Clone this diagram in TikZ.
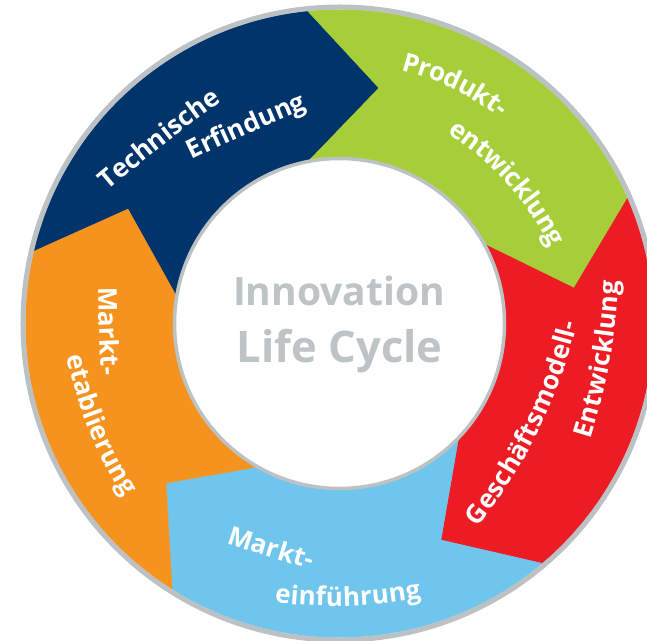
\documentclass[tikz,border=0pt]{standalone}
\usepackage{fontspec}
\setmainfont{Open Sans}
\usetikzlibrary{calc, decorations.text}

\definecolor{techblue}{RGB}{0,52,106}
\definecolor{prodgreen}{RGB}{166,206,57}
\definecolor{modelred}{RGB}{237,28,36}
\definecolor{marketblue}{RGB}{112,197,237}
\definecolor{marketorange}{RGB}{246,147,30}
\definecolor{ringgrey}{RGB}{188,193,196}
\definecolor{titlegrey}{RGB}{190,195,198}

\newcommand{\lblfont}{\fontsize{26}{26}\selectfont\bfseries}

\tikzset{
  lbl/.style={decorate, decoration={text along path, text={|\lblfont|#1}, text align=center, text color=white, raise=-8pt}},
  seg/.style={fill=#1, draw=#1, line width=0.4pt},
}

% label on a clockwise arc through a point, with its tangent angle and bend radius
\newcommand{\cwlabel}[4]{%
  \pgfmathsetmacro{\da}{8594/#3}
  \path[lbl={#4}] ($(#1)+(#2-90:#3)+(#2+90+\da:#3)$)
    arc[start angle=#2+90+\da, end angle=#2+90-\da, radius=#3];
}
% the same on a counter-clockwise arc
\newcommand{\ccwlabel}[4]{%
  \pgfmathsetmacro{\da}{8594/#3}
  \path[lbl={#4}] ($(#1)+(#2+90:#3)+(#2-90-\da:#3)$)
    arc[start angle=#2-90-\da, end angle=#2-90+\da, radius=#3];
}

\begin{document}
\begin{tikzpicture}[x=1pt, y=1pt]
    \fill[white] (-339.5,-316.5) rectangle (307.5,323.5);
    \useasboundingbox (-339.5,-316.5) rectangle (307.5,323.5);
    \clip (-339.5,-316.5) rectangle (307.5,323.5);

    % chevron borders between the phases
    \foreach \b/\ang/\tip/\rad/\inn in {b0/95.8/80.5/238.8/100.5, b1/23.5/8.6/237.2/28.3,
        b2/-49.8/-64.9/239.1/-44.3, b3/-122.2/-137.4/235.7/-120.1, b4/166.7/151.6/240.5/170.2} {
        \coordinate (\b out) at (\ang:314);
        \coordinate (\b tip) at (\tip:\rad);
        \coordinate (\b in) at (\inn:166);
    }

    \fill[seg=techblue] (b4out) arc[start angle=166.7, end angle=95.8, radius=314] -- (b0tip) -- (b0in)
        arc[start angle=100.5, end angle=170.2, radius=166] -- (b4tip) -- cycle;
    \fill[seg=prodgreen] (b0out) arc[start angle=95.8, end angle=23.5, radius=314] -- (b1tip) -- (b1in)
        arc[start angle=28.3, end angle=100.5, radius=166] -- (b0tip) -- cycle;
    \fill[seg=modelred] (b1out) arc[start angle=23.5, end angle=-49.8, radius=314] -- (b2tip) -- (b2in)
        arc[start angle=-44.3, end angle=28.3, radius=166] -- (b1tip) -- cycle;
    \fill[seg=marketblue] (b2out) arc[start angle=-49.8, end angle=-122.2, radius=314] -- (b3tip) -- (b3in)
        arc[start angle=-120.1, end angle=-44.3, radius=166] -- (b2tip) -- cycle;
    \fill[seg=marketorange] (b3out) arc[start angle=-122.2, end angle=-193.3, radius=314] -- (b4tip) -- (b4in)
        arc[start angle=170.2, end angle=239.9, radius=166] -- (b3tip) -- cycle;

    \draw[ringgrey, line width=5pt] (0,0) circle[radius=316.5];
    \draw[ringgrey, line width=3.5pt, fill=white] (0,0) circle[radius=165];

    \node[text=titlegrey, font=\fontsize{39}{39}\selectfont\bfseries, anchor=base] (title1) at (-0.5,17.8) {Innovation};
    \node[text=titlegrey, font=\fontsize{43.5}{43.5}\selectfont\bfseries, anchor=base] (title2) at (0.2,-39.2) {Life Cycle};

    \cwlabel{-180.6,184.9}{38}{2000}{Technische}
    \cwlabel{-93.6,197.6}{24}{2000}{Erfindung}
    \cwlabel{116.9,242}{-25.8}{266}{Produkt-}
    \cwlabel{173.3,145.4}{-48}{290}{entwicklung}
    \ccwlabel{192,-103.7}{64}{510}{Geschäftsmodell-}
    \ccwlabel{262.5,-36.5}{80}{600}{Entwicklung}
    \ccwlabel{-232.2,-7.6}{-88}{2000}{Markt-}
    \ccwlabel{-243.3,-102.9}{-68}{400}{etablierung}
    \ccwlabel{-68.8,-225.5}{-17.2}{2000}{Markt-}
    \ccwlabel{8.5,-274.3}{1.8}{500}{einführung}
\end{tikzpicture}
\end{document}
